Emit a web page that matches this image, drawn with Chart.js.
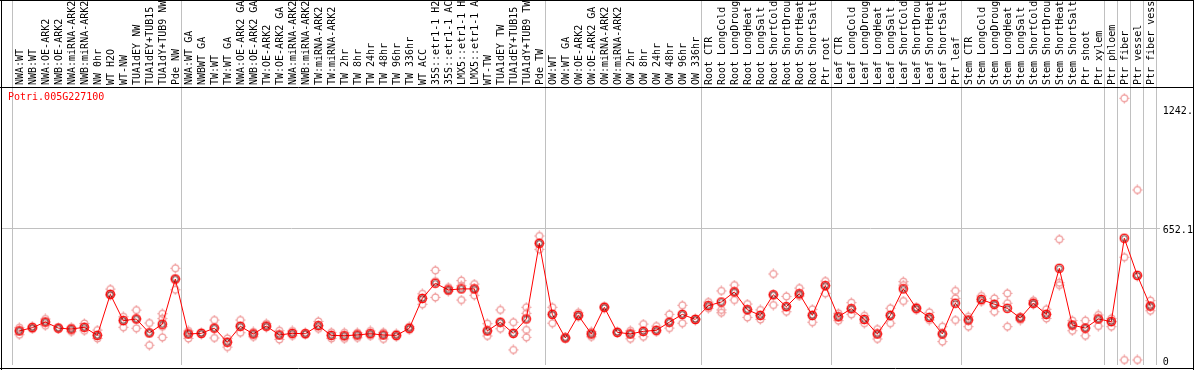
<!DOCTYPE html>
<html>
<head>
<meta charset="utf-8">
<script src="https://cdn.jsdelivr.net/npm/chart.js@4"></script>
<style>
  html, body { margin: 0; padding: 0; background: #fff; }
  canvas { display: block; }
</style>
</head>
<body>
<canvas id="chart" width="1194" height="370"></canvas>
<script>
const geneId = 'Potri.005G227100';

const samples = [
  'NWA:WT', 'NWB:WT', 'NWA:OE-ARK2', 'NWB:OE-ARK2', 'NWA:miRNA-ARK2', 'NWB:miRNA-ARK2', 'NW 0hr', 'WT H2O', 'WT-NW',
  'TUA1dEY NW', 'TUA1dEY+TUB15', 'TUA1dY+TUB9 NW', 'Pde NW',
  'NWA:WT GA', 'NWBWT GA', 'TW:WT', 'TW:WT GA', 'NWA:OE-ARK2 GA', 'NWB:OE-ARK2 GA', 'TW:OE-ARK2', 'TW:OE-ARK2 GA',
  'NWA:miRNA-ARK2', 'NWB:miRNA-ARK2', 'TW:miRNA-ARK2', 'TW:miRNA-ARK2', 'TW 2hr', 'TW 8hr', 'TW 24hr', 'TW 48hr',
  'TW 96hr', 'TW 336hr', 'WT ACC', '35S::etr1-1 H2', '35S::etr1-1 AC', 'LMX5::etr1-1 H', 'LMX5::etr1-1 A', 'WT-TW',
  'TUA1dEY TW', 'TUA1dEY+TUB15', 'TUA1dY+TUB9 TW', 'Pde TW',
  'OW:WT', 'OW:WT GA', 'OW:OE-ARK2', 'OW:OE-ARK2 GA', 'OW:miRNA-ARK2', 'OW:miRNA-ARK2', 'OW 2hr', 'OW 8hr',
  'OW 24hr', 'OW 48hr', 'OW 96hr', 'OW 336hr',
  'Root CTR', 'Root LongCold', 'Root LongDroug', 'Root LongHeat', 'Root LongSalt', 'Root ShortCold', 'Root ShortDrou',
  'Root ShortHeat', 'Root ShortSalt', 'Ptr root',
  'Leaf CTR', 'Leaf LongCold', 'Leaf LongDroug', 'Leaf LongHeat', 'Leaf LongSalt', 'Leaf ShortCold', 'Leaf ShortDrou',
  'Leaf ShortHeat', 'Leaf ShortSalt', 'Ptr leaf',
  'Stem CTR', 'Stem LongCold', 'Stem LongDroug', 'Stem LongHeat', 'Stem LongSalt', 'Stem ShortCold', 'Stem ShortDrou',
  'Stem ShortHeat', 'Stem ShortSalt', 'Ptr shoot', 'Ptr xylem',
  'Ptr phloem', 'Ptr fiber', 'Ptr vessel', 'Ptr fiber vess'
];

// grid line index at the left edge of each sample group (last one = right edge)
const groupEdges = [0, 13, 41, 53, 63, 73, 84, 85, 86, 87, 88];

const meanValues = [
  144, 160, 188, 158, 153, 162, 122, 325, 195, 203,
  134, 177, 401, 129, 132, 158, 88, 167, 129, 168,
  124, 132, 130, 170, 122, 120, 124, 130, 124, 122,
  157, 305, 380, 347, 352, 352, 144, 187, 132, 203,
  578, 226, 109, 221, 129, 261, 137, 129, 142, 147,
  187, 226, 201, 269, 287, 337, 249, 221, 323, 264,
  328, 221, 368, 214, 254, 201, 129, 221, 352, 256,
  211, 129, 281, 198, 300, 276, 256, 208, 281, 226,
  454, 173, 158, 203, 190, 603, 419, 267
];

// replicates
const repA = [
  160, 167, 203, 161, 162, 181, 148, 351, 214, 247,
  183, 229, 454, 144, 136, 198, 107, 198, 139, 180,
  145, 144, 134, 191, 137, 135, 135, 144, 137, 130,
  165, 328, 444, 360, 393, 376, 180, 248, 187, 261,
  614, 261, 113, 234, 140, 266, 140, 145, 178, 168,
  226, 271, 205, 287, 342, 371, 277, 248, 426, 315,
  356, 251, 391, 231, 284, 219, 153, 256, 388, 262,
  236, 165, 342, 214, 317, 305, 330, 212, 294, 251,
  598, 195, 195, 223, 206, 1296, 842, 294
];
const repB = [
  125, 154, 170, 155, 140, 145, 107, 321, 162, 157,
  73, 112, 348, 107, 128, 109, 64, 135, 115, 162,
  102, 120, 126, 155, 107, 105, 110, 119, 104, 115,
  149, 276, 310, 340, 297, 320, 119, 155, 50, 112,
  548, 182, 105, 214, 115, 257, 134, 105, 115, 139,
  158, 182, 198, 256, 234, 297, 211, 201, 272, 239,
  317, 187, 330, 195, 226, 182, 104, 182, 292, 248,
  198, 91, 198, 165, 289, 239, 165, 198, 275, 206,
  371, 145, 120, 168, 165, 0, 0, 244
];
const repC = [
  144, 160, 188, 158, 153, 162, 122, 325, 195, 203,
  134, 205, 401, 129, 132, 158, 88, 167, 129, 168,
  124, 132, 130, 170, 122, 120, 124, 130, 124, 122,
  157, 305, 390, 347, 368, 352, 144, 187, 132, 231,
  578, 226, 109, 221, 129, 261, 137, 129, 142, 147,
  187, 226, 201, 269, 248, 337, 249, 221, 323, 264,
  328, 221, 368, 214, 254, 201, 129, 221, 371, 256,
  211, 129, 305, 198, 300, 276, 281, 208, 281, 226,
  383, 173, 158, 203, 190, 509, 415, 267
];
const repD = [
  null, null, null, null, null, null, null, null, null, null,
  null, 165, null, null, null, null, null, null, null, null,
  null, null, null, null, null, null, null, null, null, null,
  null, null, null, null, null, null, null, null, null, 149,
  null, null, null, null, null, null, null, null, null, null,
  null, null, null, null, null, null, null, null, null, null,
  null, null, null, null, null, null, null, null, null, null,
  null, null, null, null, null, null, null, null, null, null,
  null, null, null, null, null, null, null, null
];

const yTickValues = [0, 652.1, 1242.3];
const yGridValue = 652.1;

const MONO = '"DejaVu Sans Mono", "Liberation Mono", monospace';

function meanMarker() {
  const c = document.createElement('canvas');
  c.width = 11; c.height = 11;
  const g = c.getContext('2d');
  g.lineWidth = 1.4;
  g.strokeStyle = '#ff0000';
  g.beginPath(); g.arc(5.5, 5.5, 4.1, 0, Math.PI * 2); g.stroke();
  g.lineWidth = 0.7;
  g.strokeStyle = '#300000';
  g.beginPath(); g.arc(5.5, 5.5, 2.7, 0, Math.PI * 2); g.stroke();
  return c;
}

function repMarker() {
  const c = document.createElement('canvas');
  c.width = 11; c.height = 11;
  const g = c.getContext('2d');
  g.lineWidth = 1.2;
  g.strokeStyle = '#ef9a9a';
  g.beginPath(); g.arc(5.5, 5.5, 3.4, 0, Math.PI * 2); g.stroke();
  g.beginPath();
  g.moveTo(5.5, 0.5); g.lineTo(5.5, 2.2);
  g.moveTo(5.5, 8.8); g.lineTo(5.5, 10.5);
  g.moveTo(0.5, 5.5); g.lineTo(2.2, 5.5);
  g.moveTo(8.8, 5.5); g.lineTo(10.5, 5.5);
  g.stroke();
  return c;
}

const meanImg = meanMarker();
const repImg = repMarker();

function repSet(data) {
  return {
    data: data,
    showLine: false,
    pointStyle: repImg,
    pointRadius: 4,
    borderColor: '#ef9a9a',
    backgroundColor: 'transparent'
  };
}

function noPadding(s) {
  s.paddingTop = 0;
  s.paddingBottom = 0;
  s.paddingLeft = 0;
  s.paddingRight = 0;
}

const framePlugin = {
  id: 'frame',
  beforeDatasetsDraw(chart) {
    const ctx = chart.ctx;
    const y = Math.round(chart.scales.y.getPixelForValue(yGridValue)) + 0.5;
    ctx.save();
    ctx.strokeStyle = '#c0c0c0';
    ctx.lineWidth = 1;
    ctx.beginPath();
    ctx.moveTo(2, y);
    ctx.lineTo(1160, y);
    ctx.stroke();
    ctx.restore();
  },
  afterDraw(chart) {
    const ctx = chart.ctx;
    const W = chart.width, H = chart.height;
    ctx.save();
    ctx.strokeStyle = '#000';
    ctx.lineWidth = 1;
    ctx.beginPath();
    ctx.moveTo(0, 0.5); ctx.lineTo(W, 0.5);
    ctx.moveTo(0, 87.5); ctx.lineTo(W, 87.5);
    ctx.moveTo(0, H - 1.5); ctx.lineTo(W, H - 1.5);
    ctx.moveTo(1.5, 0); ctx.lineTo(1.5, H);
    ctx.moveTo(W - 0.5, 0); ctx.lineTo(W - 0.5, H);
    ctx.stroke();
    ctx.fillStyle = '#ff0000';
    ctx.font = '10px ' + MONO;
    ctx.textBaseline = 'middle';
    ctx.fillText(geneId, 8, 97.5);
    ctx.restore();
  }
};

new Chart(document.getElementById('chart'), {
  type: 'line',
  data: {
    labels: samples,
    datasets: [
      {
        data: meanValues,
        borderColor: '#ff0000',
        borderWidth: 1,
        tension: 0,
        pointStyle: meanImg,
        pointRadius: 4,
        backgroundColor: 'transparent'
      },
      repSet(repA),
      repSet(repB),
      repSet(repC),
      repSet(repD)
    ]
  },
  options: {
    responsive: false,
    animation: false,
    devicePixelRatio: 1,
    layout: { padding: { left: 12.8, right: 0, top: 0, bottom: 1 } },
    plugins: { legend: { display: false }, tooltip: { enabled: false } },
    scales: {
      x: {
        type: 'category',
        position: 'top',
        offset: true,
        border: { display: false },
        grid: {
          offset: true,
          drawOnChartArea: true,
          drawTicks: true,
          tickLength: 88,
          lineWidth: 1,
          color: ctx => (ctx.index === undefined || groupEdges.includes(ctx.index)) ? '#c0c0c0' : 'rgba(0,0,0,0)'
        },
        ticks: {
          autoSkip: false,
          minRotation: 90,
          maxRotation: 90,
          padding: -85,
          labelOffset: 13,
          color: '#000',
          font: { family: MONO, size: 10 }
        },
        afterFit: s => { s.height = 88; noPadding(s); }
      },
      y: {
        position: 'right',
        min: -24.8,
        max: 1346.8,
        border: { display: false },
        grid: { display: false, drawTicks: false },
        afterBuildTicks: s => { s.ticks = yTickValues.map(v => ({ value: v })); },
        afterFit: s => { s.width = 37.2; noPadding(s); },
        ticks: {
          padding: 6,
          labelOffset: 2,
          color: '#000',
          font: { family: MONO, size: 10 },
          callback: v => String(v)
        }
      }
    }
  },
  plugins: [framePlugin]
});
</script>
</body>
</html>
